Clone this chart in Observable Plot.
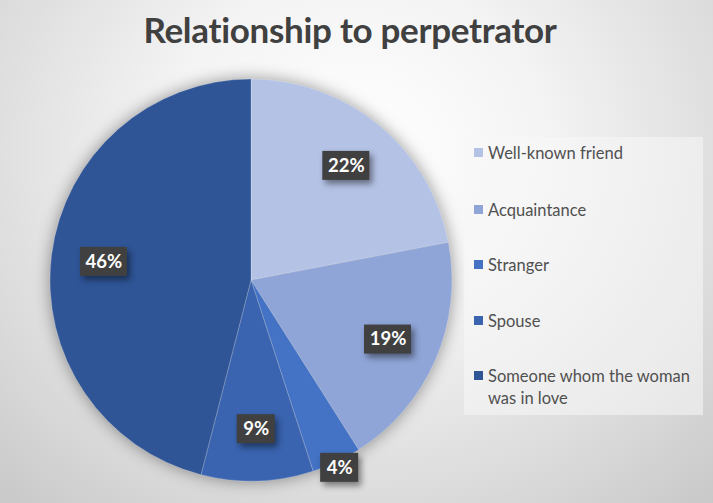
<!DOCTYPE html>
<html>
<head>
<meta charset="utf-8">
<script src="https://cdn.jsdelivr.net/npm/d3@7"></script>
<script src="https://cdn.jsdelivr.net/npm/@observablehq/plot@0.6"></script>
<style>
  html, body { margin: 0; padding: 0; }
  #chart {
    position: relative; width: 713px; height: 503px; overflow: hidden;
    background: radial-gradient(ellipse 75% 95% at 50% 30%, #ffffff 0%, #f4f4f4 35%, #dadada 75%, #c8c8c8 100%);
    font-family: Lato, "Open Sans", sans-serif;
  }
  #title {
    position: absolute; left: 0; width: 700px; top: 8px; text-align: center;
    font-size: 35px; font-weight: 700; color: #404040; letter-spacing: -0.3px;
  }
  #plot { position: absolute; left: 0; top: 0; }
  #legend {
    position: absolute; left: 464px; top: 137px; width: 239px; height: 278px;
    background: rgba(248,248,248,0.55); box-sizing: border-box;
  }
  .item { position: absolute; left: 24px; font-size: 16.5px; color: #505050; line-height: 22px; width: 215px; }
  .sw { position: absolute; left: -14px; top: 6px; width: 9px; height: 9px; }
</style>
</head>
<body>
<div id="chart">
  <div id="title">Relationship to perpetrator</div>
  <div id="plot"></div>
  <div id="legend"></div>
</div>
<script>
const categories = ["Well-known friend", "Acquaintance", "Stranger", "Spouse", "Someone whom the woman was in love"];
const values = [22, 19, 4, 9, 46];
const labels = ["22%", "19%", "4%", "9%", "46%"];
const colors = ["#b4c2e5", "#8fa5d7", "#4472c4", "#3a64b0", "#2f5597"];
const legendLines = [["Well-known friend"], ["Acquaintance"], ["Stranger"], ["Spouse"], ["Someone whom the woman", "was in love"]];

const data = categories.map((c, i) => ({category: c, value: values[i], label: labels[i]}));
const arcs = d3.pie().value(d => d.value).sort(null)(data);
const labelData = arcs.map(a => {
  const m = (a.startAngle + a.endAngle) / 2;
  const k = a.data.value < 5 ? 1.03 : 0.74;
  return {label: a.data.label, category: a.data.category, x: Math.sin(m) * k, y: Math.cos(m) * k};
});

const colorScale = {domain: categories, range: colors};

function pieMark(index, scales) {
  const x = scales.x, y = scales.y;
  const cx = x(0), cy = y(0), r = x(1) - x(0);
  const col = scales.color || (c => colors[categories.indexOf(c)]);
  const svgNS = "http://www.w3.org/2000/svg";
  const g = document.createElementNS(svgNS, "g");
  g.setAttribute("transform", `translate(${cx},${cy})`);
  g.setAttribute("style", "filter: drop-shadow(0px 0px 8px rgba(0,0,0,0.4))");
  const arc = d3.arc().innerRadius(0).outerRadius(r);
  for (const a of arcs) {
    const p = document.createElementNS(svgNS, "path");
    p.setAttribute("d", arc(a));
    p.setAttribute("fill", col(a.data.category));
    p.setAttribute("stroke", "rgba(255,255,255,0.25)");
    p.setAttribute("stroke-width", "0.8");
    g.appendChild(p);
  }
  return g;
}

function boxMark(index, scales) {
  const x = scales.x, y = scales.y;
  const svgNS = "http://www.w3.org/2000/svg";
  const g = document.createElementNS(svgNS, "g");
  g.setAttribute("style", "filter: drop-shadow(3px 4px 3px rgba(0,0,0,0.45))");
  for (const d of labelData) {
    const w = d.label.length > 2 ? 47 : 38, h = 29;
    const rc = document.createElementNS(svgNS, "rect");
    rc.setAttribute("x", x(d.x) - w / 2);
    rc.setAttribute("y", y(d.y) - h / 2);
    rc.setAttribute("width", w);
    rc.setAttribute("height", h);
    rc.setAttribute("fill", "#404040");
    g.appendChild(rc);
  }
  return g;
}

const plot = Plot.plot({
  width: 713,
  height: 503,
  marginLeft: 50,
  marginRight: 261,
  marginTop: 79,
  marginBottom: 22,
  x: {domain: [-1, 1], axis: null},
  y: {domain: [-1, 1], axis: null},
  color: colorScale,
  style: {background: "transparent", overflow: "visible"},
  marks: [
    Plot.dot(data, {x: 0, y: 0, r: 0, fill: "category"}),
    pieMark,
    boxMark,
    Plot.text(labelData, {
      x: "x", y: "y", text: "label", fill: "white",
      fontSize: 18.5, fontWeight: 700, fontFamily: "Lato, 'Open Sans', sans-serif"
    })
  ]
});
document.getElementById("plot").appendChild(plot);

const legend = document.getElementById("legend");
const tops = [5, 62, 117, 173, 228];
legendLines.forEach((lines, i) => {
  const it = document.createElement("div");
  it.className = "item";
  it.style.top = tops[i] + "px";
  it.innerHTML = lines.join("<br>");
  const sw = document.createElement("div");
  sw.className = "sw";
  sw.style.background = colors[i];
  it.appendChild(sw);
  legend.appendChild(it);
});
</script>
</body>
</html>
